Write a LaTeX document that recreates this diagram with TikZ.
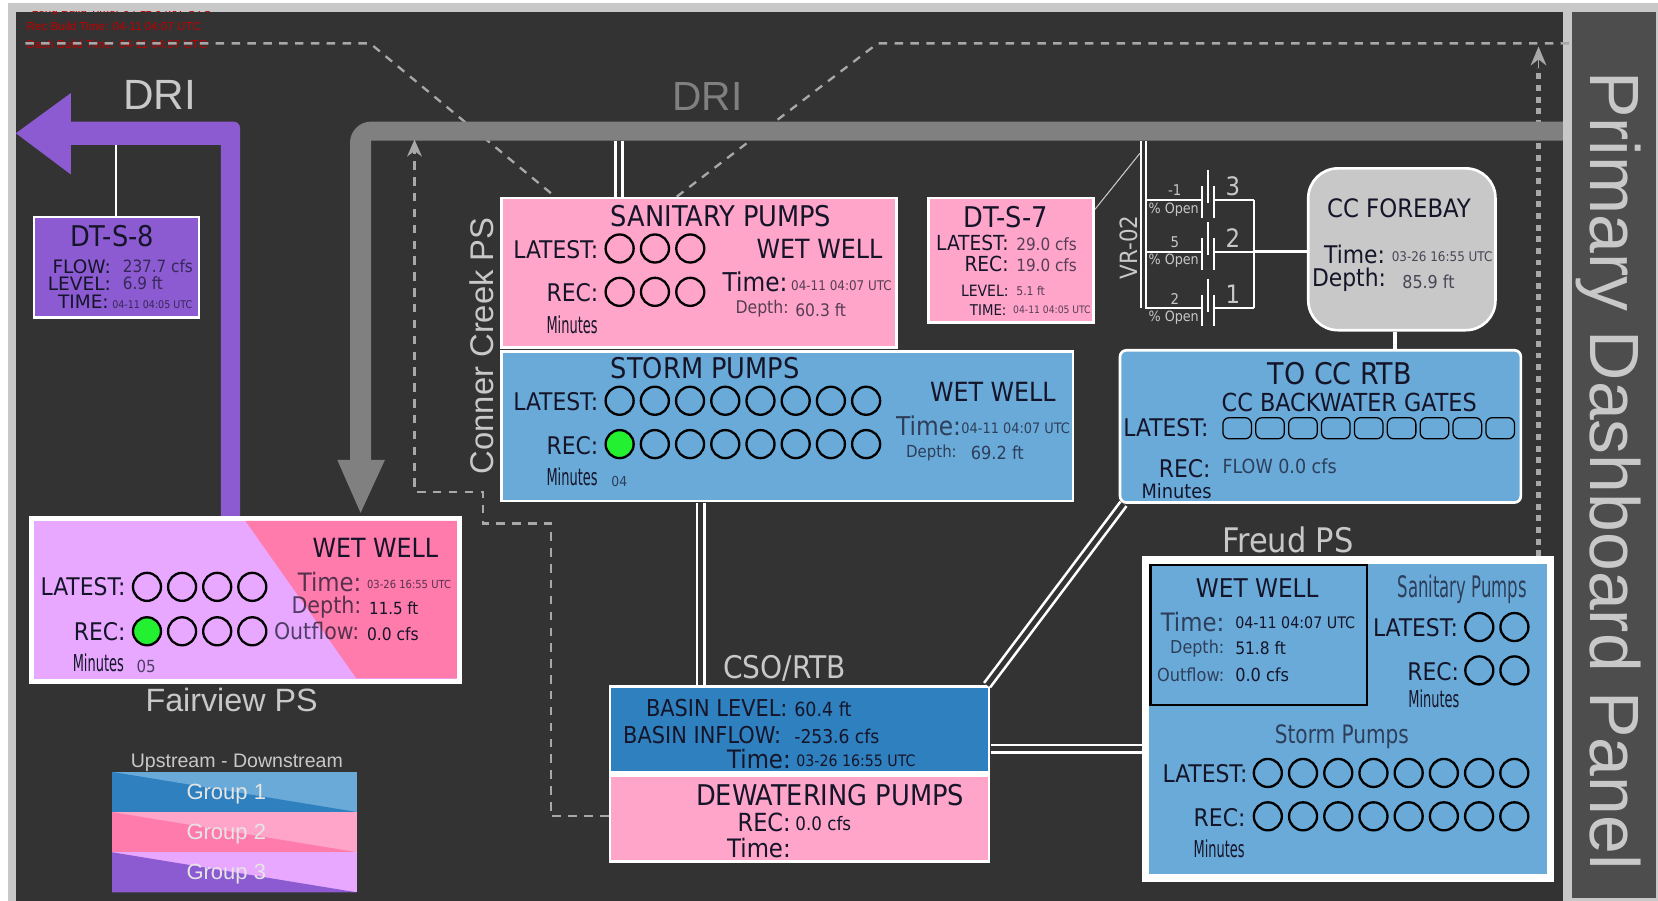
\documentclass[tikz,border=0pt]{standalone}
\usepackage{fontspec}
\usepackage{xcolor}
\usetikzlibrary{arrows.meta,calc,positioning}
\setmainfont{Liberation Sans}
\newfontfamily\condfont{DejaVu Sans Condensed}
\newfontfamily\widefont{DejaVu Sans}
\newfontfamily\midfont[FakeStretch=0.88]{DejaVu Sans Condensed}
\newfontfamily\narrowfont[FakeStretch=0.62]{DejaVu Sans Condensed}
\definecolor{panelgray}{HTML}{333333}
\definecolor{stripgray}{HTML}{C8C8C8}
\definecolor{sidegray}{HTML}{4D4D4D}
\definecolor{pipegray}{HTML}{808080}
\definecolor{dashgray}{HTML}{A8A8A8}
\definecolor{purpledark}{HTML}{8C5AD1}
\definecolor{purplelight}{HTML}{E8A8FF}
\definecolor{pinklight}{HTML}{FFA5C9}
\definecolor{pinkdark}{HTML}{FF7BAC}
\definecolor{bluelight}{HTML}{6AAAD8}
\definecolor{bluedark}{HTML}{2F80BF}
\definecolor{lampgreen}{HTML}{22F030}
\definecolor{inkdark}{HTML}{15152A}
\newcommand{\fs}[1]{\fontsize{#1}{#1}\selectfont}

\begin{document}
\begin{tikzpicture}[x=1pt,y=-1pt,
    every node/.style={inner sep=0pt,text=inkdark},
    box/.style={draw=white,line width=2.5pt,minimum width=#1,anchor=north west},
    lamp/.style={circle,draw=black,line width=2.2pt,minimum size=26.5pt,fill=none},
    gate/.style={draw=black,line width=1.2pt,rounded corners=6pt,minimum width=27pt,minimum height=20pt},
    head/.style={font=\condfont\fs{#1}},
    lab/.style={font=\condfont\fs{#1},anchor=east},
    widelab/.style={font=\widefont\fs{#1},anchor=east},
    val/.style={font=\condfont\fs{#1},anchor=west},
    mins/.style={font=\narrowfont\fs{22}},
    faint/.style={text opacity=.72},
    title/.style={text=stripgray,font=\fs{#1}},
    pairline/.style={draw=white,line width=9.5pt},
    pairgap/.style={draw=panelgray,line width=4.5pt},
    dashline/.style={draw=dashgray,line width=2.2pt,dash pattern=on 8pt off 7pt},
    wire/.style={draw=white,line width=1.8pt},
  ]
    \useasboundingbox (0,0) rectangle (1568,852);
    \fill[white] (0,0) rectangle (1568,852);
    \fill[stripgray] (8,3) rectangle (1568,852);
    \fill[panelgray] (15,11) rectangle (1478,852);
    \fill[sidegray] (1487,11) rectangle (1566,849);

    % build times
    \begin{scope}
      \clip (15,11) rectangle (300,20);
      \node[anchor=west,text=red!75!black,font=\fs{11}] (buildlong) at (30,9) {Long Build Time: 04-11 04:07 UTC};
    \end{scope}
    \node[anchor=west,text=red!75!black,font=\fs{11}] (buildrec) at (25,25) {Rec Build Time: 04-11 04:07 UTC};
    \node[anchor=west,text=red!75!black,font=\fs{11}] (builddash) at (25,42) {Dash Build Time: 04-11 04:07 UTC};

    % dashed runs go under the pipes
    \coordinate (dashstart) at (24,41);
    \coordinate (dashend) at (1484,41);
    \coordinate (dashsanleft) at (525,186);
    \coordinate (dashsanright) at (640,186);
    \coordinate (sumpin) at (392,132);
    \coordinate (dotin) at (1455,44);
    \coordinate (dotout) at (1455,526);
    \draw[dashline] (dashstart) -- (350,41) -- (dashsanleft);
    \draw[dashline] (dashsanright) -- (830,41) -- (dashend);
    \draw[draw=dashgray,line width=5pt,dash pattern=on 5.5pt off 5.5pt] (dotout) -- (1455,64);
    \draw[draw=dashgray,-{Stealth[length=18pt,width=15pt]},line width=1.5pt] (1455,64) -- (dotin);

    % pipes
    \fill[purpledark] (15,126) -- (67,88) -- (67,115) [rounded corners=6pt] -- (227,115) [sharp corners] -- (227,490) -- (209,490) -- (209,137) -- (67,137) -- (67,165) -- cycle;
    \fill[pipegray] (1478,115) -- (351,115) [rounded corners=20pt] -- (331,115) [sharp corners] -- (331,435) -- (319,435) -- (341,485) -- (364,435) -- (351,435) -- (351,133) -- (1478,133) -- cycle;
    \node[title=40] (drileft) at (151,90) {DRI};
    \node[title=38.5,text=pipegray] (driright) at (669,91) {DRI};
    \node[title=31,rotate=90] (conner) at (456,327) {Conner Creek PS};
    \node[text=stripgray,font=\fs{66},rotate=-90] (sidetitle) at (1521.5,445) {Primary Dashboard Panel};

    % DT-S-8
    \node[box=156pt,minimum height=95pt,fill=purpledark] (dts8) at (31,204) {};
    \node[head=27] (dts8name) at (106,223) {DT-S-8};
    \node[widelab=17.5] (dts8flow) at (105,252) {FLOW:};
    \node[val=16,faint] (dts8flowv) at (116,252) {237.7 cfs};
    \node[widelab=17.5] (dts8level) at (105,268.5) {LEVEL:};
    \node[val=16,faint] (dts8levelv) at (116,268) {6.9 ft};
    \node[widelab=17.5] (dts8time) at (103,285) {TIME:};
    \node[val=10,faint] (dts8timev) at (106,288) {04-11 04:05 UTC};
    \coordinate (dts8tap) at (110,137);
    \draw[wire] (dts8tap) -- (dts8tap |- dts8.north);

    % sanitary pumps
    \node[box=373.5pt,minimum height=141.5pt,fill=pinklight] (sanitary) at (473,186) {};
    \node[head=27] (sanitaryname) at (682,204) {SANITARY PUMPS};
    \node[lab=23] (sanlatest) at (566,236) {LATEST:};
    \node[lab=23] (sanrec) at (566,277) {REC:};
    \node[mins] (sanmins) at (541,307) {Minutes};
    \foreach \i in {0,1,2} {
      \node[lamp] (sanlatest\i) at (586+33.4*\i,235) {};
      \node[lamp] (sanrec\i) at (586+33.4*\i,276) {};
    }
    \node[head=25] (sanwell) at (775,235) {WET WELL};
    \node[lab=24.5] (santime) at (745,267) {Time:};
    \node[val=12.6,faint] (santimev) at (748,270) {04-11 04:07 UTC};
    \node[lab=16.5,faint] (sandepth) at (746,292) {Depth:};
    \node[val=16.3,faint] (sandepthv) at (752,293) {60.3 ft};

    % storm pumps
    \node[box=540.5pt,minimum height=141.5pt,fill=bluelight] (storm) at (473,331) {};
    \node[head=27] (stormname) at (667,348) {STORM PUMPS};
    \node[lab=23] (stlatest) at (566,380) {LATEST:};
    \node[lab=23] (strec) at (566,421) {REC:};
    \node[mins] (stmins) at (541,451) {Minutes};
    \node[val=13,faint] (stminsv) at (578,455) {04};
    \foreach \i in {0,...,7} {
      \node[lamp] (stlatest\i) at (586+33.3*\i,379) {};
      \ifnum\i=0
        \node[lamp,fill=lampgreen] (strec\i) at (586+33.3*\i,420) {};
      \else
        \node[lamp] (strec\i) at (586+33.3*\i,420) {};
      \fi
    }
    \node[head=25] (stwell) at (939,371) {WET WELL};
    \node[lab=24.5,faint] (sttime) at (909,403) {Time:};
    \node[val=13.6,faint] (sttimev) at (909,405) {04-11 04:07 UTC};
    \node[lab=15.7,faint] (stdepth) at (905,428) {Depth:};
    \node[val=17,faint] (stdepthv) at (918,428) {69.2 ft};

    % DT-S-7
    \node[box=156pt,minimum height=117.5pt,fill=pinklight] (dts7) at (877,186) {};
    \node[head=27] (dts7name) at (951,205) {DT-S-7};
    \node[lab=19.6] (dts7latest) at (954,230) {LATEST:};
    \node[val=16,faint] (dts7latestv) at (961,231) {29.0 cfs};
    \node[lab=19.6] (dts7rec) at (954,250) {REC:};
    \node[val=16,faint] (dts7recv) at (961,251) {19.0 cfs};
    \node[lab=14.7] (dts7level) at (954,275) {LEVEL:};
    \node[val=11.4,faint] (dts7levelv) at (961,275) {5.1 ft};
    \node[lab=14] (dts7time) at (952,293) {TIME:};
    \node[val=9.7,faint] (dts7timev) at (958,293) {04-11 04:05 UTC};

    % CC forebay
    \node[box=177pt,minimum height=153pt,fill=stripgray,rounded corners=28pt] (forebay) at (1236,158) {};
    \node[head=24] (forebayname) at (1323,197) {CC FOREBAY};
    \node[lab=23] (fbtime) at (1310,241) {Time:};
    \node[val=12.6,faint] (fbtimev) at (1316,243) {03-26 16:55 UTC};
    \node[lab=23] (fbdepth) at (1311,265) {Depth:};
    \node[val=16.8,faint] (fbdepthv) at (1326,267) {85.9 ft};

    % valves
    \node[head=22.5,text=stripgray,rotate=90] (vrname) at (1068,234) {VR-02};
    \coordinate (vrtop) at (1081.5,133);
    \coordinate (vrbot) at (1081.5,291.6);
    \coordinate (vrrighttop) at (1186,189);
    \coordinate (vrrightmid) at (1186,238);
    \coordinate (vrrightbot) at (1186,291.6);
    \foreach \vn/\y/\num/\pct in {vthree/189/3/-1,vtwo/238/2/5,vone/291.6/1/2} {
      \coordinate (\vn-a) at (1136.5,\y);
      \coordinate (\vn-b) at (1147.7,\y);
      \draw[wire] (1083,\y) -- (\vn-a);
      \draw[wire] (\vn-b) -- (1186,\y);
      \draw[wire] ($(\vn-a)+(0,-13)$) -- ($(\vn-a)+(0,17)$);
      \draw[wire] ($(\vn-b)+(0,-13)$) -- ($(\vn-b)+(0,17)$);
      \draw[wire] ($(\vn-a)!.5!(\vn-b)+(0,-28)$) -- ($(\vn-a)!.5!(\vn-b)+(0,3)$);
      \node[head=24,text=stripgray] (\vn-num) at (1166,\y-13) {\num};
      \node[head=14,text=stripgray] (\vn-pct) at (1111,\y-9) {\pct};
      \node[head=13.4,text=stripgray] (\vn-open) at (1110,\y+9) {\% Open};
    }
    \draw[wire] (vrrighttop) -- (vrrightbot);
    \draw[wire,line width=2.6pt] (vrrightmid) -- (forebay.west |- vrrightmid);
    \draw[pairline,line width=6.5pt] (vrtop) -- (vrbot);
    \draw[pairgap,line width=2.8pt] (vrtop) -- (vrbot);
    \draw[draw=stripgray,line width=1pt] (dts7.east |- 0,198) -- (1078,145);

    % TO CC RTB
    \node[box=379pt,minimum height=144pt,fill=bluelight,rounded corners=6pt] (rtb) at (1058,330) {};
    \node[head=28.3] (rtbname) at (1267,353) {TO CC RTB};
    \node[head=23.5] (rtbgates) at (1276,381) {CC BACKWATER GATES};
    \node[lab=23] (rtblatest) at (1143,404) {LATEST:};
    \node[lab=23] (rtbrec) at (1145,443) {REC:};
    \node[lab=18.7] (rtbmins) at (1146,464) {Minutes};
    \node[val=18.4,faint] (rtbflow) at (1156,441) {FLOW 0.0 cfs};
    \foreach \i in {0,...,8} {
      \node[gate] (rtbgate\i) at (1170+31.1*\i,405) {};
    }
    \draw[draw=white,line width=4pt] (forebay.south -| 1319,0) -- (rtb.north -| 1319,0);

    % Fairview PS
    \node[box=405pt,minimum height=154pt,fill=purplelight,line width=5pt] (fairview) at (27,488) {};
    \fill[pinkdark] (232,492.5) -- (432,492.5) -- (432,641.5) -- (337,641.5) -- cycle;
    \node[head=25] (fvwell) at (355,518) {WET WELL};
    \node[lab=23] (fvlatest) at (119,555) {LATEST:};
    \node[lab=23] (fvrec) at (119,597) {REC:};
    \node[mins] (fvmins) at (93,627) {Minutes};
    \node[val=15.8,faint] (fvminsv) at (129,630) {05};
    \foreach \i in {0,...,3} {
      \node[lamp] (fvlatest\i) at (139+33.2*\i,555) {};
      \ifnum\i=0
        \node[lamp,fill=lampgreen] (fvrec\i) at (139+33.2*\i,597) {};
      \else
        \node[lamp] (fvrec\i) at (139+33.2*\i,597) {};
      \fi
    }
    \node[lab=24,faint] (fvtime) at (342,550) {Time:};
    \node[val=10.5,faint] (fvtimev) at (347,553) {03-26 16:55 UTC};
    \node[lab=21.7,faint] (fvdepth) at (342,574) {Depth:};
    \node[val=15.8] (fvdepthv) at (349,575) {11.5 ft};
    \node[lab=21.6,faint] (fvout) at (340,597) {Outflow:};
    \node[val=16.3] (fvoutv) at (347,600) {0.0 cfs};
    \node[title=30.5] (fvname) at (219,662) {Fairview PS};

    % legend
    \node[text=stripgray,font=\fs{18.5}] (legendhead) at (224,721) {Upstream - Downstream};
    \foreach \nm/\y/\lt/\dk/\gr in {lgone/730/bluelight/bluedark/1,lgtwo/768/pinklight/pinkdark/2,lgthree/806/purplelight/purpledark/3} {
      \fill[\lt] (106,\y) rectangle (338,\y+38);
      \fill[\dk] (106,\y) -- (338,\y+38) -- (106,\y+38) -- cycle;
      \node[text=white!90!black,font=\fs{20.8}] (\nm) at (214,\y+21) {Group \gr};
    }

    % CSO/RTB
    \node[box=358.5pt,minimum height=81.5pt,fill=bluedark] (cso) at (575.5,648) {};
    \node[box=358.5pt,minimum height=81.5pt,fill=pinklight] (dewater) at (575.5,732) {};
    \node[head=29.5,text=stripgray] (csoname) at (742,632) {CSO/RTB};
    \node[lab=22] (csolevel) at (745,670) {BASIN LEVEL:};
    \node[val=18.4] (csolevelv) at (751,671) {60.4 ft};
    \node[lab=22] (csoinflow) at (739,695) {BASIN INFLOW:};
    \node[val=18] (csoinflowv) at (751,696) {-253.6 cfs};
    \node[lab=24] (csotime) at (748,718) {Time:};
    \node[val=14.9] (csotimev) at (753,719) {03-26 16:55 UTC};
    \node[head=27] (dewatername) at (785,752) {DEWATERING PUMPS};
    \node[lab=23.6] (dewrec) at (748,778) {REC:};
    \node[val=17.6] (dewrecv) at (752,779) {0.0 cfs};
    \node[lab=24] (dewtime) at (748,802) {Time:};

    % Freud PS
    \node[box=383pt,minimum height=301pt,fill=bluelight,line width=7pt] (freud) at (1080,526) {};
    \node[anchor=north west,draw=black,line width=2pt,minimum width=205pt,minimum height=133pt] (freudwell) at (1087,533) {};
    \node[head=32,text=stripgray] (freudname) at (1218,511) {Freud PS};
    \node[head=24.4] (frwellname) at (1189,556) {WET WELL};
    \node[lab=24,faint] (frtime) at (1158,588) {Time:};
    \node[val=15] (frtimev) at (1168,589) {04-11 04:07 UTC};
    \node[lab=16.8,faint] (frdepth) at (1158,613) {Depth:};
    \node[val=16.3] (frdepthv) at (1168,613) {51.8 ft};
    \node[lab=17,faint] (frout) at (1158,638) {Outflow:};
    \node[val=17] (froutv) at (1168,638) {0.0 cfs};
    \node[font=\narrowfont\fs{28},faint] (frsan) at (1383,557) {Sanitary Pumps};
    \node[lab=23] (frsanlatest) at (1379,594) {LATEST:};
    \node[lab=23] (frsanrec) at (1380,635) {REC:};
    \node[mins] (frsanmins) at (1356,661) {Minutes};
    \node[font=\midfont\fs{24},faint] (frstorm) at (1269,697) {Storm Pumps};
    \node[lab=23] (frstlatest) at (1180,732) {LATEST:};
    \node[lab=23] (frstrec) at (1178,773) {REC:};
    \node[mins] (frstmins) at (1153,803) {Minutes};
    \foreach \i in {0,1} {
      \node[lamp] (frsanl\i) at (1399+33.2*\i,593) {};
      \node[lamp] (frsanr\i) at (1399+33.2*\i,634) {};
    }
    \foreach \i in {0,...,7} {
      \node[lamp] (frstl\i) at (1199+33.3*\i,731) {};
      \node[lamp] (frstr\i) at (1199+33.3*\i,772) {};
    }

    % double links
    \coordinate (santap) at (585.5,133);
    \coordinate (stormtap) at (662.5,476);
    \coordinate (csoside) at (937,708);
    \foreach \st in {pairline,pairgap} {
      \draw[\st] (santap) -- (santap |- sanitary.north);
      \draw[\st] (stormtap) -- (stormtap |- cso.north);
      \draw[\st] ([xshift=4.5pt]rtb.south west) -- ([xshift=-3pt]cso.north east);
      \draw[\st] (csoside) -- (csoside -| freud.west);
    }

    % return run
    \draw[dashline,-{Stealth[length=16pt,width=14pt]}] (dewater.west |- 0,772) -- (521,772) -- (521,495) -- (457,495) -- (457,465) -- (392,465) -- (sumpin);
  \end{tikzpicture}
\end{document}
